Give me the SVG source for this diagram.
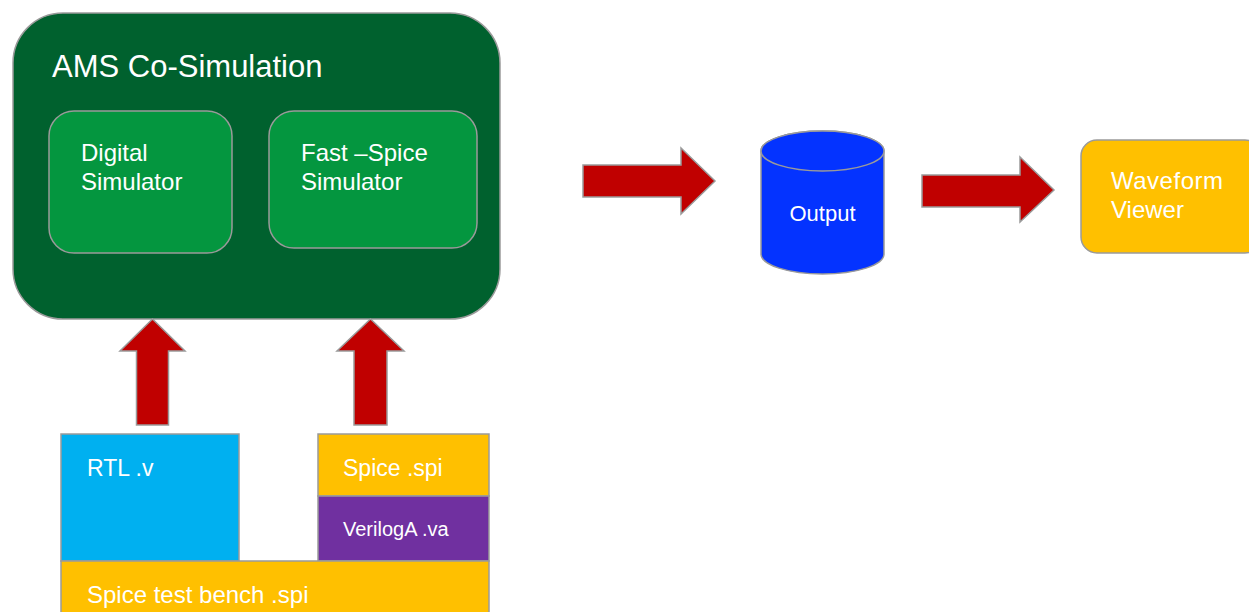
<svg xmlns="http://www.w3.org/2000/svg" width="1249" height="612" viewBox="0 0 1249 612">
<style>
text{font-family:"Liberation Sans",Arial,sans-serif;fill:#ffffff}
.box{stroke:#9a9a9a;stroke-width:1.5}
.arr{fill:#C00000;stroke:#9a9a9a;stroke-width:1.5;stroke-linejoin:miter}
</style>
<rect width="1249" height="612" fill="#ffffff"/>
<g id="ams">
<rect class="box" x="13" y="13" width="487" height="306" rx="50" fill="#00612E"/>
<text x="52" y="77" font-size="31">AMS Co-Simulation</text>
</g>
<g id="digital">
<rect class="box" x="49" y="111" width="183" height="142" rx="25" fill="#04963F"/>
<text x="81" y="161" font-size="24">Digital</text>
<text x="81" y="190" font-size="24">Simulator</text>
</g>
<g id="fastspice">
<rect class="box" x="269" y="111" width="208" height="137" rx="25" fill="#04963F"/>
<text x="301" y="161" font-size="24">Fast –Spice</text>
<text x="301" y="190" font-size="24">Simulator</text>
</g>
<g id="output">
<path class="box" d="M761 151 L761 254 A61.5 20 0 0 0 884 254 L884 151 A61.5 20 0 0 0 761 151 Z" fill="#0433FF"/>
<ellipse class="box" cx="822.5" cy="151" rx="61.5" ry="20" fill="#0433FF"/>
<text x="822.5" y="221" font-size="22" text-anchor="middle">Output</text>
</g>
<g id="waveform">
<rect class="box" x="1081" y="140" width="180" height="113" rx="16" fill="#FFC000"/>
<text x="1111" y="189" font-size="24" letter-spacing="0.5">Waveform</text>
<text x="1111" y="218" font-size="24">Viewer</text>
</g>
<g id="rtl">
<rect class="box" x="61" y="434" width="178" height="127" fill="#00B0F0"/>
<text x="87" y="476" font-size="23">RTL .v</text>
</g>
<g id="spice">
<rect class="box" x="318" y="434" width="171" height="62" fill="#FFC000"/>
<text x="343" y="476" font-size="23">Spice .spi</text>
</g>
<g id="veriloga">
<rect class="box" x="318" y="496" width="171" height="65" fill="#7030A0"/>
<text x="343" y="536" font-size="20">VerilogA .va</text>
</g>
<g id="testbench">
<rect class="box" x="61" y="561" width="428" height="60" fill="#FFC000"/>
<text x="87" y="603" font-size="24">Spice test bench .spi</text>
</g>
<g id="connectors">
<path class="arr" d="M583 165 L681 165 L681 148 L715 181 L681 214 L681 197 L583 197 Z"/>
<path class="arr" d="M922 175 L1020 175 L1020 157 L1054 190 L1020 222 L1020 207 L922 207 Z"/>
<path class="arr" d="M136.5 425 L136.5 351 L120 351 L152.5 319 L185 351 L168.5 351 L168.5 425 Z"/>
<path class="arr" d="M354 425 L354 351 L337 351 L370.5 319 L404 351 L387 351 L387 425 Z"/>
</g>
</svg>
